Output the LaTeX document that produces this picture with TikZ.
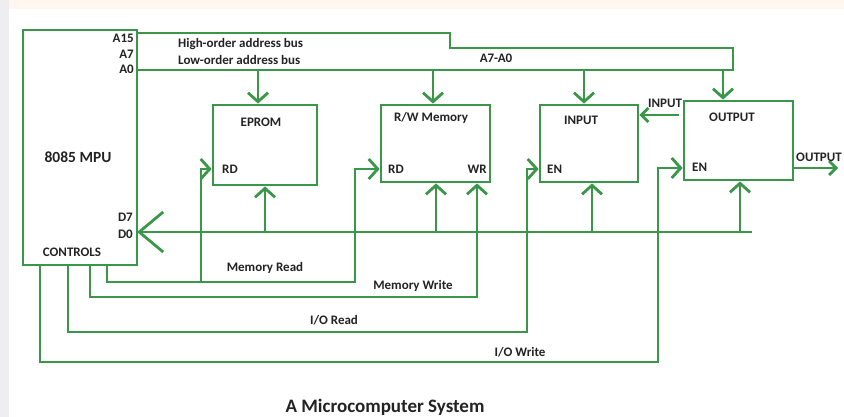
\documentclass[tikz,border=0pt]{standalone}
\usepackage{fontspec}
\setmainfont{Carlito}
\usetikzlibrary{arrows.meta}
\definecolor{wirec}{RGB}{58,150,72}
\definecolor{txtc}{RGB}{35,35,35}
\begin{document}
\begin{tikzpicture}[x=1pt,y=-1pt,
  wire/.style={draw=wirec, line width=2.8pt, line join=miter},
  arr/.style={wire, -{Straight Barb[length=9pt,width=20pt]}},
  arrs/.style={wire, -{Straight Barb[length=7pt,width=14pt]}},
  arrb/.style={wire, -{Straight Barb[length=24pt,width=40pt]}},
  blk/.style={draw=wirec, line width=2.8pt, fill=white, rectangle, inner sep=0pt},
  lbl/.style={font=\bfseries\fontsize{13}{14}\selectfont, text=txtc, inner sep=0pt},
  big/.style={font=\bfseries\fontsize{15.5}{16}\selectfont, text=txtc, inner sep=0pt},
  ttl/.style={font=\bfseries\fontsize{19}{20}\selectfont, text=txtc, inner sep=0pt}]
\useasboundingbox (0,0) rectangle (844,417);
\fill[white] (0,0) rectangle (844,417);
\fill[blue!10!gray!12] (0,0) rectangle (9,417);
\fill[orange!6] (9,0) rectangle (844,9);

% blocks
\node[blk, minimum width=114pt, minimum height=235pt] (mpu) at (80,147.5) {};
\node[blk, minimum width=104pt, minimum height=80pt] (eprom) at (265,145) {};
\node[blk, minimum width=109pt, minimum height=77pt] (rwm) at (435.5,143.5) {};
\node[blk, minimum width=98pt, minimum height=77pt] (inp) at (589,143.5) {};
\node[blk, minimum width=109pt, minimum height=79pt] (outp) at (738.5,140.5) {};

% block labels
\node[big] (mpulbl) at (78,157) {8085 MPU};
\node[lbl, anchor=east] (la15) at (134,38) {A15};
\node[lbl, anchor=east] (la7) at (134,54) {A7};
\node[lbl, anchor=east] (la0) at (134,69) {A0};
\node[lbl, anchor=east] (ld7) at (133,217) {D7};
\node[lbl, anchor=east] (ld0) at (133,234) {D0};
\node[lbl] (lctl) at (72,252) {CONTROLS};
\node[lbl] (leprom) at (261,122) {EPROM};
\node[lbl] (lrwm) at (431,118) {R/W Memory};
\node[lbl] (linp) at (581,120) {INPUT};
\node[lbl] (loutp) at (732,117) {OUTPUT};
\node[lbl, anchor=west] (lrd1) at (222,169) {RD};
\node[lbl, anchor=west] (lrd2) at (388,169) {RD};
\node[lbl, anchor=east] (lwr) at (487,169) {WR};
\node[lbl, anchor=west] (len1) at (547,169) {EN};
\node[lbl, anchor=west] (len2) at (692,167) {EN};

% address bus
\coordinate (hb0) at (137,33);
\coordinate (lb0) at (137,70);
\draw[wire] (hb0) -- (450,33) -- (450,48) -- (733,48) -- (733,70) -- (lb0);
\node[lbl, anchor=west] (lhigh) at (178,44) {High-order address bus};
\node[lbl, anchor=west] (llow) at (178,60) {Low-order address bus};
\node[lbl] (la7a0) at (496,58) {A7-A0};
\coordinate (ae) at (258,70);
\coordinate (ar) at (433,70);
\coordinate (ai) at (584,70);
\coordinate (ao) at (723,70);
\draw[arr] (ae) -- (ae |- eprom.north);
\draw[arr] (ar) -- (ar |- rwm.north);
\draw[arr] (ai) -- (ai |- inp.north);
\draw[arr] (ao) -- (ao |- outp.north);

% data bus
\coordinate (dbend) at (752,232);
\coordinate (dbmpu) at (137,232);
\draw[wire] (dbend) -- (dbmpu);
\draw[arrb] (170,232) -- (dbmpu);
\coordinate (de) at (265,232);
\coordinate (dr) at (436,232);
\coordinate (di) at (592,232);
\coordinate (do) at (740,232);
\draw[arr] (de) -- (de |- eprom.south);
\draw[arr] (dr) -- (dr |- rwm.south);
\draw[arr] (di) -- (di |- inp.south);
\draw[arr] (do) -- (do |- outp.south);

% external I/O
\coordinate (inext) at (679,115);
\draw[arrs] (inext) -- (inext -| inp.east);
\node[lbl] (linext) at (665,103) {INPUT};
\coordinate (outext) at (838,168);
\draw[arrs] (outext -| outp.east) -- (outext);
\node[lbl] (loutext) at (819,157) {OUTPUT};

% control lines
\coordinate (mr) at (107,282);
\coordinate (mrx) at (355,282);
\coordinate (rdR) at (355,169);
\draw[arr] (mpu.south -| mr) -- (mr) -- (mrx) -- (rdR) -- (rdR -| rwm.west);
\coordinate (rdE) at (201,169);
\draw[arr] (rdE |- mr) -- (rdE) -- (rdE -| eprom.west);
\node[lbl] (lmr) at (265,268) {Memory Read};

\coordinate (mw) at (90,297);
\coordinate (wrx) at (477,297);
\draw[arr] (mpu.south -| mw) -- (mw) -- (wrx) -- (wrx |- rwm.south);
\node[lbl] (lmw) at (413,286) {Memory Write};

\coordinate (ior) at (68,332);
\coordinate (iorx) at (527,332);
\coordinate (enI) at (527,169);
\draw[arr] (mpu.south -| ior) -- (ior) -- (iorx) -- (enI) -- (enI -| inp.west);
\node[lbl] (lior) at (334,320) {I/O Read};

\coordinate (iow) at (40,362);
\coordinate (iowx) at (658,362);
\coordinate (enO) at (658,168);
\draw[arr] (mpu.south -| iow) -- (iow) -- (iowx) -- (enO) -- (enO -| outp.west);
\node[lbl] (liow) at (520,352) {I/O Write};

\node[ttl] (title) at (385,407) {A Microcomputer System};
\end{tikzpicture}
\end{document}
